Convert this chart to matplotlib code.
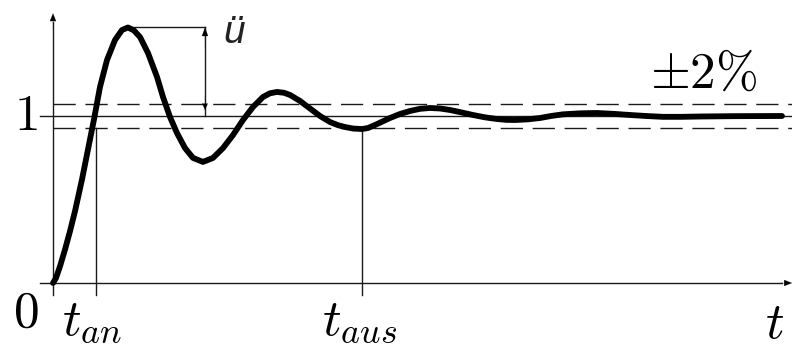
import matplotlib
matplotlib.use("Agg")
import matplotlib.pyplot as plt

# ---- data ----
t_curve = [0.00, 0.03, 0.07, 0.12, 0.17, 0.22, 0.29, 0.35, 0.41, 0.47, 0.54, 0.62,
           0.69, 0.75, 0.81, 0.87, 0.95, 1.04, 1.10, 1.17, 1.24, 1.32, 1.40, 1.50,
           1.60, 1.70, 1.80, 1.90, 2.00, 2.10, 2.17, 2.24, 2.31, 2.37, 2.47, 2.57,
           2.67, 2.77, 2.85, 2.92, 3.00, 3.09, 3.15, 3.22, 3.27, 3.37, 3.47, 3.57,
           3.67, 3.77, 3.87, 3.97, 4.08, 4.20, 4.32, 4.44, 4.53, 4.62, 4.75, 4.87,
           4.98, 5.10, 5.27, 5.44, 5.60, 5.77, 5.93, 6.10, 6.28, 6.47, 6.80, 7.29]
y_curve = [0.000, 0.030, 0.100, 0.200, 0.310, 0.430, 0.620, 0.800, 0.980, 1.174, 1.335, 1.455,
           1.515, 1.530, 1.512, 1.473, 1.377, 1.234, 1.114, 0.994, 0.898, 0.808, 0.749, 0.725,
           0.749, 0.808, 0.886, 0.976, 1.054, 1.114, 1.136, 1.144, 1.139, 1.126, 1.090, 1.045,
           1.000, 0.964, 0.945, 0.934, 0.925, 0.922, 0.928, 0.946, 0.960, 0.988, 1.012, 1.030,
           1.043, 1.048, 1.045, 1.036, 1.022, 1.006, 0.992, 0.982, 0.977, 0.976, 0.980, 0.988,
           1.000, 1.010, 1.016, 1.018, 1.013, 1.006, 1.000, 0.995, 0.995, 0.997, 0.999, 1.000]

final_value = 1.0
band = 0.07          # drawn width of the ±2 % band
t_an = 0.43
t_aus = 3.09
y_aus = 0.922
t_end = 7.39
peak_value = max(y_curve)
t_peak = t_curve[y_curve.index(peak_value)]
t_overshoot = 1.52

label_one = r"$1$"
label_zero = r"$0$"
label_tan = r"$t_{an}$"
label_taus = r"$t_{aus}$"
label_t = r"$t$"
label_band = r"$\pm2\%$"
label_over = "ü"

plt.rcParams["mathtext.fontset"] = "cm"

fig = plt.figure(figsize=(7.92, 3.49), dpi=100)
ax = fig.add_axes([0, 0, 1, 1])
ax.set_xlim(-0.53, 7.39)
ax.set_ylim(-0.3952, 1.6946)
ax.axis("off")

lc = "#1a1a1a"
thin = 1.0

# axes
ax.plot([-0.13, t_end - 0.1], [0, 0], color=lc, lw=thin)
ax.plot([0, 0], [-0.07, 1.56], color=lc, lw=thin)
ax.annotate("", xy=(t_end, 0), xytext=(t_end - 0.13, 0),
            arrowprops=dict(arrowstyle="-|>,head_length=0.55,head_width=0.22",
                            color="black", lw=0.1, shrinkA=0, shrinkB=0))
ax.annotate("", xy=(0, 1.615), xytext=(0, 1.52),
            arrowprops=dict(arrowstyle="-|>,head_length=0.55,head_width=0.22",
                            color="black", lw=0.1, shrinkA=0, shrinkB=0))

# final value and band
ax.plot([-0.13, t_end], [final_value, final_value], color=lc, lw=thin)
for s in (1, -1):
    ax.plot([0.0, t_end], [final_value + s * band] * 2, color=lc, lw=thin,
            dashes=(16, 7))

# time markers
ax.plot([t_an, t_an], [-0.07, final_value - band], color=lc, lw=thin)
ax.plot([t_aus, t_aus], [-0.07, y_aus], color=lc, lw=thin)

# overshoot marker
ax.plot([t_peak, t_overshoot], [peak_value, peak_value], color=lc, lw=thin)
ax.plot([t_overshoot, t_overshoot], [final_value, peak_value], color=lc, lw=thin)
ax.annotate("", xy=(t_overshoot, peak_value), xytext=(t_overshoot, peak_value - 0.12),
            arrowprops=dict(arrowstyle="-|>,head_length=0.6,head_width=0.22",
                            color="black", lw=0.1, shrinkA=0, shrinkB=0))
ax.annotate("", xy=(t_overshoot, final_value + 0.036), xytext=(t_overshoot, final_value + 0.12),
            arrowprops=dict(arrowstyle="-|>,head_length=0.45,head_width=0.2",
                            color="black", lw=0.1, shrinkA=0, shrinkB=0))

# response curve
ax.plot(t_curve, y_curve, color="black", lw=4.2, solid_capstyle="round",
        solid_joinstyle="round", zorder=5)

# labels
fs = 37
ax.text(-0.27, 1.0, label_one, fontsize=fs, ha="center", va="center")
ax.text(-0.275, -0.18, label_zero, fontsize=fs, ha="center", va="center")
ax.text(0.39, -0.311, label_tan, fontsize=fs, ha="center", va="baseline")
ax.text(t_aus - 0.02, -0.311, label_taus, fontsize=fs, ha="center", va="baseline")
ax.text(7.22, -0.33, label_t, fontsize=fs, ha="center", va="baseline")
ax.text(5.97, 1.168, label_band, fontsize=fs, ha="left", va="baseline")
ax.text(1.70, 1.437, label_over, fontsize=28, ha="left", va="baseline",
        family="Liberation Sans", style="italic", color="#222222")

fig.savefig("out.png", dpi=100)
